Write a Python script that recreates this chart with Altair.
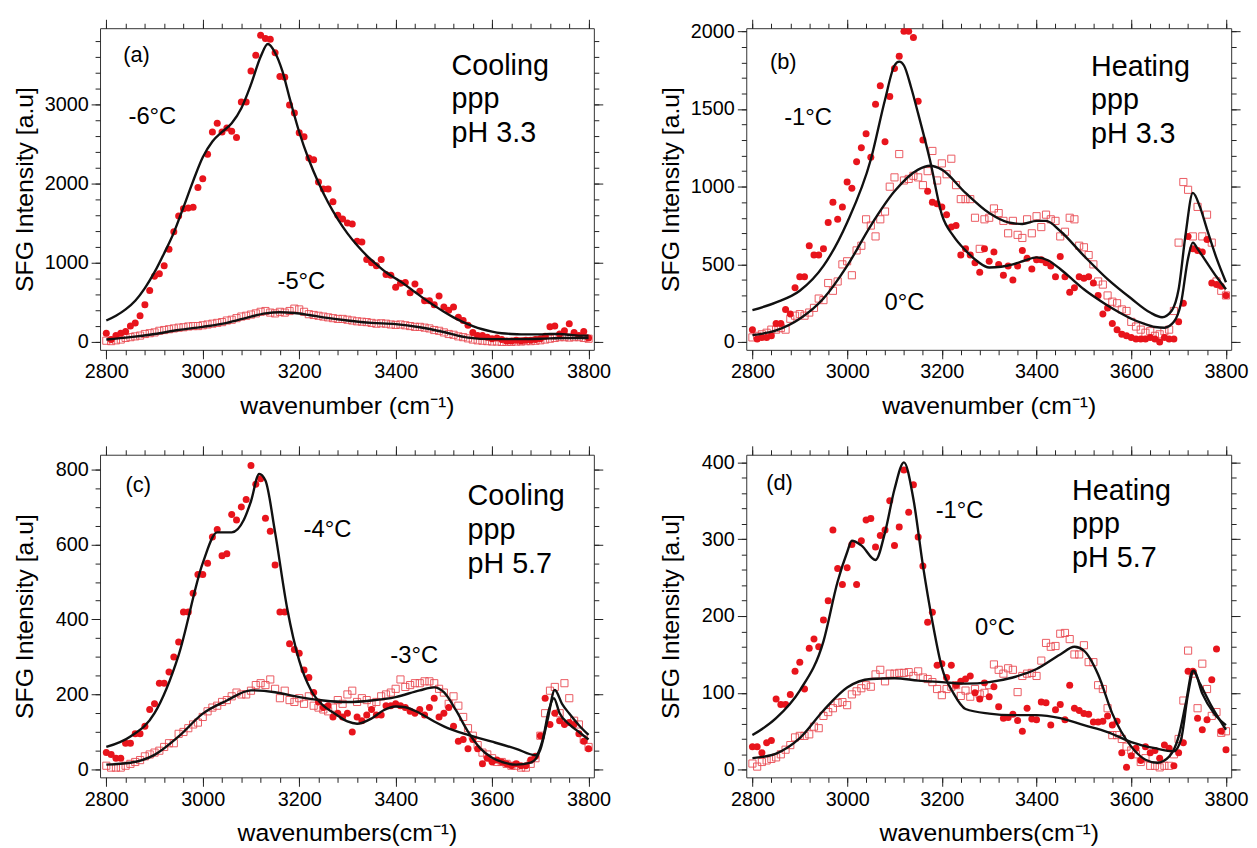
import altair as alt
import pandas as pd

FONT = "Liberation Sans"
RED = "#e8141c"
SQ = "#ea4a52"

WN = list(range(2800, 3801, 10))
X_MAJOR = [2800, 3000, 3200, 3400, 3600, 3800]
X_MINOR = list(range(2800, 3801, 40))
X_DOMAIN = [2787, 3811]

# ---------------- panel (a): cooling, pH 3.3 ----------------
A_FILLED = [110, 30, 80, 110, 130, 200, 240, 330, 470, 650,
            830, 860, 960, 1170, 1390, 1590, 1680, 1690, 1700, 1950,
            2060, 2370, 2650, 2760, 2650, 2700, 2660, 2580, 3030, 3030,
            3420, 3620, 3870, 3830, 3820, 3650, 3350, 3340, 2990, 2890,
            2640, 2590, 2320, 2300, 2020, 1930, 1930, 1770, 1600, 1550,
            1500, 1490, 1270, 1260, 1040, 1000, 960, 1040, 850, 840,
            690, 740, 750, 620, 730, 640, 520, 520, 470, 580,
            440, 400, 440, 310, 270, 210, 120, 80, 80, 60,
            40, 50, 30, 10, 10, 20, 10, 20, 20, 30,
            40, 70, 190, 200, 100, 140, 230, 120, 80, 130,
            50]
A_OPEN = [15, 10, 20, 30, 50, 60, 70, 80, 100, 110,
          120, 140, 150, 160, 170, 180, 185, 195, 200, 200,
          210, 220, 230, 240, 250, 270, 280, 300, 320, 330,
          345, 360, 380, 390, 370, 360, 380, 370, 390, 420,
          410, 380, 350, 340, 330, 320, 310, 300, 290, 290,
          280, 270, 260, 255, 250, 240, 230, 235, 230, 220,
          215, 220, 210, 200, 190, 190, 180, 170, 150, 140,
          120, 100, 90, 70, 60, 45, 30, 20, 15, 10,
          5, 5, 0, 0, 0, 5, 5, 10, 10, 15,
          20, 30, 40, 50, 60, 60, 55, 60, 60, 50,
          40]
A_FIT1_X = [2800, 2820, 2840, 2860, 2880, 2900, 2920, 2940, 2960, 2980, 3000, 3020, 3040,
            3060, 3080, 3100, 3120, 3135, 3150, 3165, 3180, 3200, 3220, 3240, 3260, 3280,
            3300, 3320, 3340, 3360, 3380, 3400, 3420, 3440, 3460, 3480, 3500, 3520, 3540,
            3560, 3580, 3600, 3620, 3640, 3660, 3680, 3700, 3720, 3740, 3760, 3780, 3800]
A_FIT1_Y = [270, 330, 410, 520, 680, 880, 1120, 1380, 1700, 2030, 2330, 2530, 2650,
            2760, 2950, 3250, 3600, 3760, 3650, 3420, 3080, 2650, 2300, 2010, 1760, 1550,
            1370, 1220, 1090, 980, 880, 800, 720, 630, 540, 460, 380, 310, 250,
            200, 160, 130, 110, 100, 95, 95, 95, 100, 100, 90, 80, 80]
A_FIT2_X = [2800, 2850, 2900, 2950, 3000, 3050, 3100, 3130, 3160, 3190, 3220, 3250,
            3300, 3350, 3400, 3450, 3500, 3550, 3600, 3650, 3700, 3750, 3800]
A_FIT2_Y = [30, 60, 100, 150, 190, 240, 320, 360, 375, 365, 340, 310,
            270, 240, 225, 185, 125, 55, 35, 35, 40, 50, 50]
A_NOTES = [["(a)", 2835, 3625, 22], ["-6°C", 2846, 2838, 24], ["-5°C", 3155, 750, 24]]
A_COND = [["Cooling", 3516, 3375], ["ppp", 3516, 2950], ["pH 3.3", 3516, 2525]]

# ---------------- panel (b): heating, pH 3.3 ----------------
B_FILLED = [80, 20, 30, 30, 40, 120, 120, 210, 180, 350,
            420, 420, 620, 560, 560, 600, 770, 900, 790, 870,
            1030, 990, 1160, 1250, 1340, 1190, 1530, 1650, 1290, 1580,
            1760, 1840, 2000, 2000, 1960, 1550, 1300, 970, 900, 890,
            870, 820, 740, 750, 560, 600, 560, 510, 450, 600,
            520, 580, 500, 430, 490, 400, 490, 590, 540, 470,
            530, 530, 510, 490, 420, 550, 420, 320, 350, 420,
            410, 420, 380, 300, 180, 220, 120, 80, 50, 40,
            30, 20, 20, 20, 30, 20, 0, 30, 20, 20,
            130, 250, 680, 600, 590, 580, 660, 380, 370, 360,
            300]
B_OPEN = [30, 40, 50, 60, 80, 80, 90, 80, 150, 170,
          180, 170, 190, 220, 280, 270, 380, 330, 390, 500,
          520, 430, 590, 620, 790, 750, 680, 790, 840, 1000,
          1060, 1210, 1040, 1050, 1070, 1060, 1010, 1100, 1230, 1040,
          1150, 1080, 1180, 1010, 920, 920, 920, 800, 600, 790,
          800, 860, 830, 780, 700, 780, 690, 670, 790, 700,
          810, 740, 820, 790, 780, 680, 710, 800, 790, 620,
          610, 560, 500, 390, 370, 300, 260, 250, 210, 200,
          130, 100, 80, 60, 70, 40, 50, 70, 80, 200,
          640, 1030, 980, 680, 870, 680, 820, 640, 390, 330,
          300]
B_FIT1_X = [2800, 2850, 2900, 2950, 3000, 3050, 3080, 3100, 3110, 3120, 3135, 3150, 3175,
            3200, 3225, 3250, 3275, 3300, 3325, 3350, 3375, 3400, 3425, 3450, 3475, 3500,
            3525, 3550, 3575, 3600, 3625, 3650, 3670, 3690, 3705, 3720, 3730, 3740, 3760,
            3780, 3800]
B_FIT1_Y = [205, 255, 330, 490, 770, 1175, 1560, 1780, 1805, 1780, 1640, 1470, 1170,
            820, 680, 590, 520, 480, 485, 500, 525, 545, 525, 470, 405, 340,
            285, 235, 190, 150, 120, 97, 92, 130, 250, 540, 640, 600, 510,
            420, 340]
B_FIT2_X = [2800, 2850, 2900, 2950, 3000, 3050, 3100, 3150, 3175, 3200, 3250, 3300, 3340,
            3370, 3400, 3420, 3450, 3500, 3550, 3600, 3640, 3665, 3685, 3700, 3715, 3730,
            3745, 3760, 3780, 3800]
B_FIT2_Y = [45, 75, 150, 280, 490, 750, 970, 1110, 1135, 1110, 960, 830, 770,
            760, 780, 780, 715, 555, 405, 280, 190, 160, 200, 340, 700, 960,
            870, 725, 540, 385]
B_NOTES = [["(b)", 2837, 1803, 22], ["-1°C", 2867, 1441, 24], ["0°C", 3079, 254, 24]]
B_COND = [["Heating", 3515, 1714], ["ppp", 3515, 1498], ["pH 3.3", 3515, 1283]]

# ---------------- panel (c): cooling, pH 5.7 ----------------
C_FILLED = [45, 40, 30, 30, 70, 70, 95, 95, 115, 160,
            175, 230, 230, 260, 300, 340, 420, 420, 470, 520,
            520, 550, 620, 640, 570, 575, 680, 665, 700, 720,
            810, 760, 775, 670, 635, 545, 420, 420, 335, 320,
            310, 265, 245, 205, 180, 165, 170, 140, 150, 140,
            150, 100, 140, 130, 145, 160, 145, 145, 170, 170,
            175, 170, 165, 155, 150, 160, 145, 165, 190, 140,
            150, 165, 115, 75, 80, 55, 80, 55, 15, 30,
            20, 25, 20, 15, 10, 15, 10, 10, 25, 35,
            90, 190, 120, 150, 130, 120, 125, 120, 95, 75,
            55]
C_OPEN = [10, 5, 5, 5, 10, 15, 20, 25, 35, 40,
          45, 50, 60, 70, 70, 95, 100, 110, 120, 125,
          140, 155, 165, 170, 180, 185, 195, 205, 200, 200,
          210, 225, 230, 225, 240, 215, 190, 210, 185, 180,
          190, 175, 195, 170, 165, 160, 155, 165, 185, 175,
          200, 210, 180, 190, 185, 175, 180, 195, 200, 205,
          215, 240, 220, 225, 230, 230, 235, 235, 230, 215,
          205, 175, 195, 170, 140, 110, 90, 65, 45, 40,
          30, 20, 20, 15, 10, 10, 5, 5, 15, 30,
          90, 150, 210, 220, 150, 230, 190, 130, 120, 80,
          60]
C_FIT1_X = [2800, 2850, 2900, 2950, 3000, 3030, 3060, 3085, 3100, 3117, 3130, 3150, 3175,
            3200, 3225, 3250, 3275, 3300, 3320, 3350, 3375, 3400, 3420, 3450, 3480, 3500,
            3550, 3600, 3650, 3690, 3705, 3718, 3728, 3740, 3760, 3780, 3800]
C_FIT1_Y = [60, 88, 150, 305, 550, 632, 632, 665, 715, 788, 770, 632, 430,
            290, 210, 170, 148, 128, 122, 136, 158, 168, 166, 150, 128, 115,
            92, 74, 55, 38, 80, 160, 190, 150, 120, 100, 80]
C_FIT2_X = [2800, 2850, 2900, 2950, 3000, 3050, 3100, 3150, 3200, 3250, 3300, 3350, 3400,
            3450, 3480, 3500, 3525, 3550, 3575, 3600, 3625, 3650, 3680, 3700, 3715, 3730,
            3745, 3760, 3780, 3800]
C_FIT2_Y = [13, 18, 39, 88, 149, 184, 211, 206, 193, 184, 180, 184, 193,
            211, 219, 206, 158, 101, 57, 31, 18, 13, 18, 53, 132, 212,
            175, 149, 118, 92]
C_NOTES = [["(c)", 2840, 757, 22], ["-4°C", 3209, 638, 24], ["-3°C", 3389, 303, 24]]
C_COND = [["Cooling", 3549, 704], ["ppp", 3549, 615], ["pH 5.7", 3549, 525]]

# ---------------- panel (d): heating, pH 5.7 ----------------
D_FILLED = [30, 30, 22, 35, 38, 92, 85, 85, 98, 128,
            140, 105, 158, 170, 160, 195, 220, 312, 262, 241,
            263, 293, 241, 298, 325, 327, 290, 305, 312, 350,
            292, 316, 390, 335, 371, 303, 265, 192, 205, 136,
            138, 120, 136, 110, 115, 118, 122, 100, 92, 113,
            95, 108, 82, 67, 68, 72, 64, 50, 80, 66,
            65, 88, 87, 58, 78, 85, 65, 110, 80, 77,
            73, 72, 62, 62, 63, 70, 58, 63, 22, 3,
            18, 28, 12, 30, 22, 25, 15, 32, 28, 5,
            22, 35, 128, 128, 67, 52, 65, 117, 157, 50,
            26]
D_OPEN = [8, 4, 10, 12, 14, 16, 20, 26, 32, 42,
          44, 44, 46, 56, 54, 70, 75, 80, 87, 88,
          84, 98, 102, 106, 110, 108, 124, 130, 115, 125,
          125, 126, 126, 127, 122, 128, 120, 118, 114, 105,
          97, 105, 108, 110, 96, 103, 95, 105, 98, 100,
          110, 137, 130, 125, 132, 130, 101, 122, 125, 126,
          122, 142, 165, 160, 161, 177, 178, 170, 150, 150,
          162, 140, 140, 110, 105, 80, 45, 45, 40, 30,
          25, 20, 10, 15, 5, 5, 3, 5, 5, 20,
          40, 90, 155, 125, 80, 138, 105, 70, 75, 48,
          50]
D_FIT1_X = [2800, 2850, 2900, 2950, 2980, 3000, 3010, 3030, 3060, 3080, 3100, 3120, 3140,
            3160, 3180, 3200, 3225, 3250, 3300, 3350, 3400, 3450, 3500, 3550, 3600, 3650,
            3690, 3705, 3720, 3732, 3750, 3775, 3800]
D_FIT1_Y = [45, 67, 103, 167, 245, 283, 298, 292, 273, 309, 365, 400, 352,
            266, 193, 133, 99, 79, 73, 71, 71, 67, 58, 49, 36, 28,
            24, 39, 99, 129, 99, 73, 58]
D_FIT2_X = [2800, 2850, 2900, 2950, 3000, 3050, 3100, 3150, 3200, 3250, 3300, 3350, 3400,
            3450, 3480, 3500, 3530, 3560, 3600, 3630, 3655, 3680, 3700, 3715, 3730, 3745,
            3770, 3800]
D_FIT2_Y = [15, 21, 41, 77, 107, 118, 119, 116, 114, 112, 114, 120, 131,
            150, 160, 155, 124, 73, 30, 13, 9, 17, 43, 86, 129, 112,
            82, 52]
D_NOTES = [["(d)", 2829, 373, 22], ["-1°C", 3187, 337, 24], ["0°C", 3270, 184, 24]]
D_COND = [["Heating", 3475, 351], ["ppp", 3475, 308], ["pH 5.7", 3475, 264]]


def axis(orient, values, tick, labels=False, title=None, tpad=8):
    kw = dict(orient=orient, values=values, tickSize=tick, tickWidth=1,
              tickColor="#222", domain=False, grid=False, labels=labels)
    if labels:
        kw.update(format="d", labelFont=FONT, labelFontSize=20, labelColor="black",
                  labelPadding=3, labelFlush=False)
    if title is not None:
        kw.update(title=title, titleFont=FONT, titleFontSize=25,
                  titleFontWeight="normal", titleColor="black", titlePadding=tpad)
    else:
        kw.update(title=None)
    return alt.Axis(**kw)


def panel(filled, opened, f1x, f1y, f2x, f2y, notes, cond, y_domain, y_major,
          y_minor, width, height, x_title, ytpad):
    pts = pd.DataFrame({"wn": WN, "filled": filled, "open": opened})
    f1 = pd.DataFrame({"wn": f1x, "v": f1y})
    f2 = pd.DataFrame({"wn": f2x, "v": f2y})
    nt = pd.DataFrame(notes, columns=["t", "wn", "v", "fs"])
    cd = pd.DataFrame(cond, columns=["t", "wn", "v"])
    xs = alt.Scale(domain=X_DOMAIN, nice=False, zero=False)
    ys = alt.Scale(domain=y_domain, nice=False, zero=False)

    sq = alt.Chart(pts).mark_point(shape="square", filled=False, size=52,
                                   strokeWidth=1, color=SQ, opacity=0.9, clip=True).encode(
        x=alt.X("wn:Q", scale=xs, axis=axis("bottom", X_MAJOR, 9, True, x_title, 12)),
        y=alt.Y("open:Q", scale=ys,
                axis=axis("left", y_major, 9, True, "SFG Intensity [a.u]", ytpad)),
    )
    ci = alt.Chart(pts).mark_circle(size=50, color=RED, opacity=1, clip=True).encode(
        x=alt.X("wn:Q", scale=xs, axis=axis("bottom", X_MINOR, 5)),
        y=alt.Y("filled:Q", scale=ys, axis=axis("left", y_minor, 5)),
    )
    l1 = alt.Chart(f1).mark_line(color="#111", strokeWidth=2.4, interpolate="monotone",
                                 clip=True).encode(
        x=alt.X("wn:Q", scale=xs, axis=axis("top", X_MAJOR, 9)),
        y=alt.Y("v:Q", scale=ys, axis=axis("right", y_major, 9)),
    )
    l2 = alt.Chart(f2).mark_line(color="#111", strokeWidth=2.4, interpolate="monotone",
                                 clip=True).encode(
        x=alt.X("wn:Q", scale=xs, axis=axis("top", X_MINOR, 5)),
        y=alt.Y("v:Q", scale=ys, axis=axis("right", y_minor, 5)),
    )
    t1 = alt.Chart(nt).mark_text(font=FONT, align="left", baseline="middle",
                                 color="black").encode(
        x=alt.X("wn:Q", scale=xs, axis=None),
        y=alt.Y("v:Q", scale=ys, axis=None),
        text="t:N",
        size=alt.Size("fs:Q", scale=None, legend=None),
    )
    t2 = alt.Chart(cd).mark_text(font=FONT, align="left", baseline="alphabetic",
                                 color="black", fontSize=29).encode(
        x=alt.X("wn:Q", scale=xs, axis=None),
        y=alt.Y("v:Q", scale=ys, axis=None),
        text="t:N",
    )
    return alt.layer(sq, ci, l1, l2, t1, t2).resolve_axis(
        x="independent", y="independent").properties(width=width, height=height)


pa = panel(A_FILLED, A_OPEN, A_FIT1_X, A_FIT1_Y, A_FIT2_X, A_FIT2_Y, A_NOTES, A_COND,
           [-100, 3960], [0, 1000, 2000, 3000], list(range(0, 3961, 200)), 499, 325,
           "wavenumber (cm⁻¹)", 7)
pb = panel(B_FILLED, B_OPEN, B_FIT1_X, B_FIT1_Y, B_FIT2_X, B_FIT2_Y, B_NOTES, B_COND,
           [-50, 2020], [0, 500, 1000, 1500, 2000], list(range(0, 2001, 100)), 490, 325,
           "wavenumber (cm⁻¹)", 7)
pc = panel(C_FILLED, C_OPEN, C_FIT1_X, C_FIT1_Y, C_FIT2_X, C_FIT2_Y, C_NOTES, C_COND,
           [-21, 839], [0, 200, 400, 600, 800], list(range(0, 801, 50)), 499, 326,
           "wavenumbers(cm⁻¹)", 18)
pd_ = panel(D_FILLED, D_OPEN, D_FIT1_X, D_FIT1_Y, D_FIT2_X, D_FIT2_Y, D_NOTES, D_COND,
            [-10, 410], [0, 100, 200, 300, 400], list(range(0, 401, 20)), 490, 326,
            "wavenumbers(cm⁻¹)", 18)

chart = alt.vconcat(
    alt.hconcat(pa, pb, spacing=47),
    alt.hconcat(pc, pd_, spacing=47),
    spacing=26,
).properties(
    padding={"left": 4, "top": 6, "right": 0, "bottom": 0},
    background="white",
).configure_view(stroke="#333", strokeWidth=1)

chart.save("out.html", embed_options={"renderer": "svg", "actions": False})
